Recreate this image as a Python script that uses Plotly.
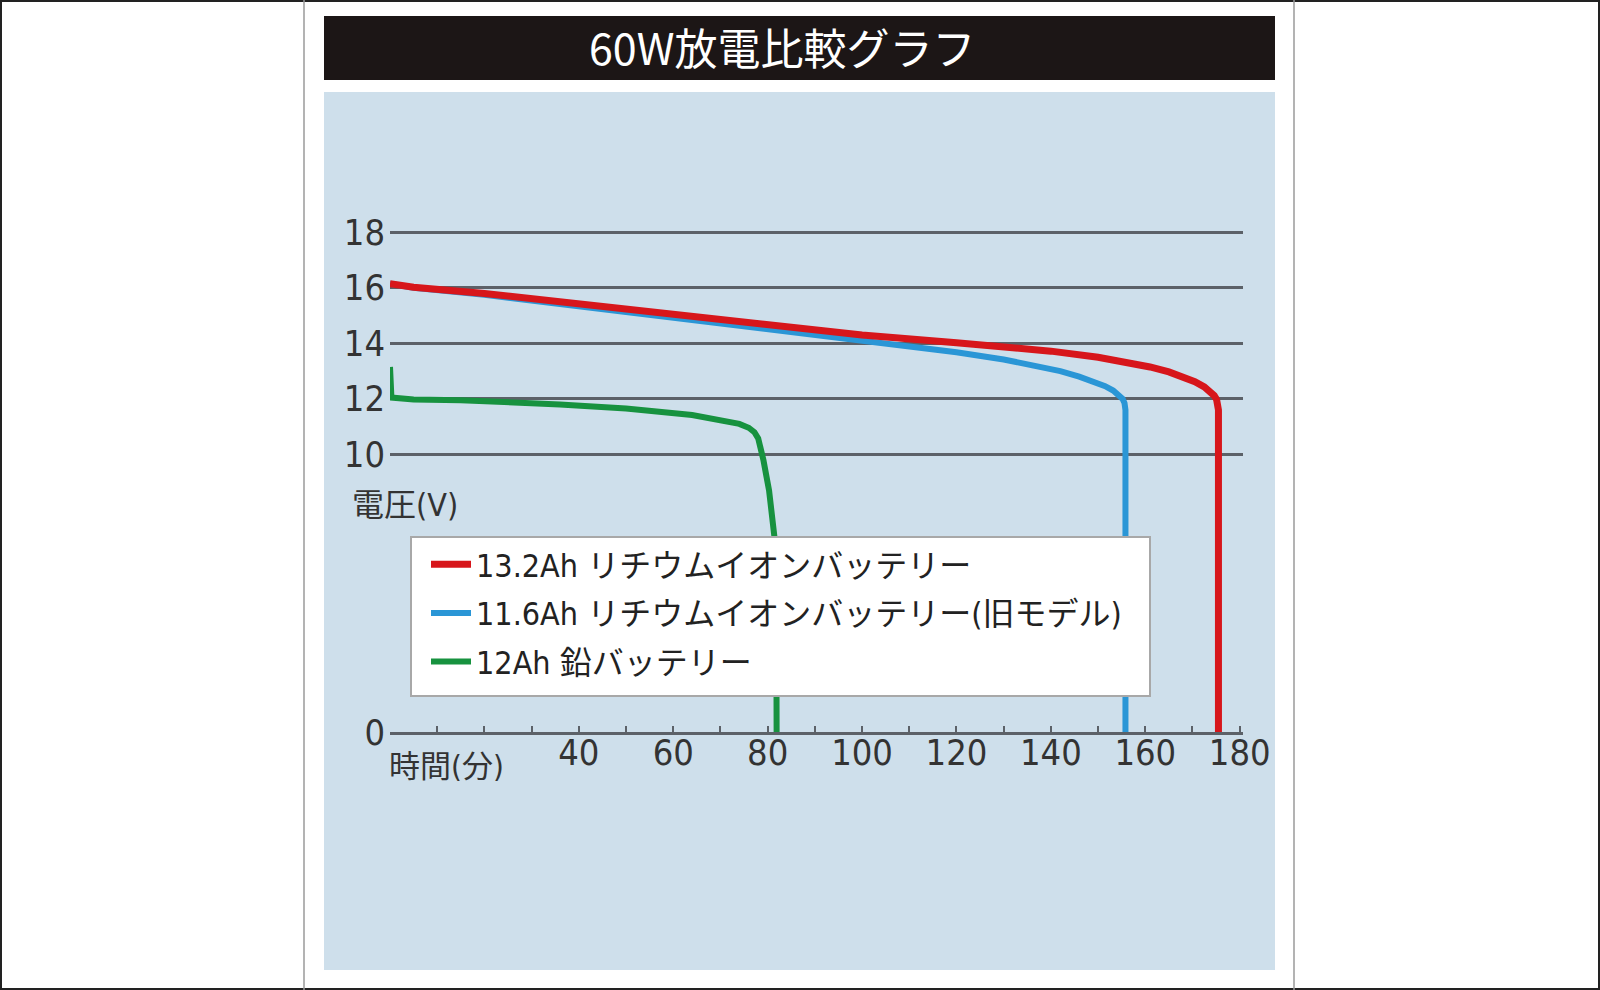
import plotly.graph_objects as go

# discharge curves (time in minutes, voltage in V)
red_name = "13.2Ah リチウムイオンバッテリー"
red_t = [0, 5, 20, 40, 60, 80, 100, 120, 130, 140, 150, 156, 161, 165, 168, 170.5, 172.5, 173.8, 174.6, 175.1, 175.4, 175.5, 175.5]
red_v = [16.15, 16.02, 15.8, 15.42, 15.03, 14.65, 14.3, 14.02, 13.88, 13.72, 13.5, 13.33, 13.15, 12.97, 12.8, 12.62, 12.43, 12.27, 12.12, 11.98, 11.82, 11.6, 0]

blue_name = "11.6Ah リチウムイオンバッテリー(旧モデル)"
blue_t = [0, 5, 20, 40, 60, 80, 100, 110, 120, 130, 137, 142, 146, 149, 151.5, 153.2, 154.4, 155.2, 155.6, 155.8, 155.8]
blue_v = [16.15, 16.0, 15.75, 15.33, 14.92, 14.52, 14.1, 13.9, 13.68, 13.42, 13.2, 13.0, 12.8, 12.62, 12.46, 12.3, 12.15, 12.0, 11.85, 11.6, 0]

green_name = "12Ah 鉛バッテリー"
green_t = [0, 0.3, 5, 15, 36, 50, 64, 71, 74, 76, 77.2, 78.0, 78.5, 79.1, 80.3, 81.2, 81.8, 81.9]
green_v = [13.15, 12.05, 11.98, 11.95, 11.8, 11.65, 11.42, 11.23, 11.1, 10.96, 10.8, 10.58, 10.25, 9.8, 8.7, 7.6, 6.5, 0]

x_tickvals = [10, 20, 30, 40, 50, 60, 70, 80, 90, 100, 110, 120, 130, 140, 150, 160, 170, 180]
x_ticktext = ["", "", "", "40", "", "60", "", "80", "", "100", "", "120", "", "140", "", "160", "", "180"]
y_tickvals = [0, 10, 12, 14, 16, 18]

title = "60W放電比較グラフ"
y_label = "電圧(V)"
x_label = "時間(分)"

W, H = 1600, 990
L, R, T, B = 390, 357, 224, 258
PW, PH = W - L - R, H - T - B

NARROW = "Liberation Sans Narrow, DejaVu Sans Condensed, Noto Sans CJK JP"
CJK = "Noto Sans CJK JP, Noto Sans"
GRID = "#5c6168"


def px(x):
    return (x - L) / PW


def py(y):
    return (H - B - y) / PH


fig = go.Figure()
fig.add_trace(go.Scatter(x=green_t, y=green_v, mode="lines", name=green_name,
                         line=dict(color="#17923f", width=6), legendrank=3, legendgroup="g"))
fig.add_trace(go.Scatter(x=blue_t, y=blue_v, mode="lines", name=blue_name,
                         line=dict(color="#2a96d6", width=6), legendrank=2, legendgroup="b"))
fig.add_trace(go.Scatter(x=red_t, y=red_v, mode="lines", name=red_name,
                         line=dict(color="#d7161b", width=7), legendrank=1, legendgroup="r"))

shapes = [
    # outer frame and side rules
    dict(type="rect", xref="paper", yref="paper", x0=px(1), x1=px(W - 1), y0=py(H - 1), y1=py(1),
         line=dict(color="#222222", width=2), layer="below"),
    dict(type="line", xref="paper", yref="paper", x0=px(304), x1=px(304), y0=py(H), y1=py(0),
         line=dict(color="#9a9a9a", width=1.5), layer="below"),
    dict(type="line", xref="paper", yref="paper", x0=px(1294), x1=px(1294), y0=py(H), y1=py(0),
         line=dict(color="#9a9a9a", width=1.5), layer="below"),
    # title bar
    dict(type="rect", xref="paper", yref="paper", x0=px(324), x1=px(1275), y0=py(80), y1=py(16),
         fillcolor="#1c1616", line=dict(width=0), layer="below"),
    # light blue panel
    dict(type="rect", xref="paper", yref="paper", x0=px(324), x1=px(1275), y0=py(970), y1=py(92),
         fillcolor="#cedfeb", line=dict(width=0), layer="below"),
    # legend box (drawn over the curves, legend text sits on top)
    dict(type="rect", xref="paper", yref="paper", x0=px(411), x1=px(1150), y0=py(696), y1=py(537),
         fillcolor="#ffffff", line=dict(color="#a8a8a8", width=2), layer="above"),
]

annotations = [
    dict(text=title, xref="paper", yref="paper", x=px(782), y=py(46), showarrow=False,
         xanchor="center", yanchor="middle", font=dict(family=CJK, size=43, color="#ffffff")),
    dict(text=y_label, xref="paper", yref="paper", x=px(405), y=py(505), showarrow=False,
         xanchor="center", yanchor="middle", font=dict(family=NARROW, size=32, color="#333333")),
    dict(text=x_label, xref="paper", yref="paper", x=px(446), y=py(766), showarrow=False,
         xanchor="center", yanchor="middle", font=dict(family=NARROW, size=31, color="#333333")),
]

fig.update_layout(
    width=W,
    height=H,
    margin=dict(l=L, r=R, t=T, b=B, autoexpand=False),
    paper_bgcolor="#ffffff",
    plot_bgcolor="rgba(0,0,0,0)",
    shapes=shapes,
    annotations=annotations,
    showlegend=True,
    legend=dict(
        x=px(426), y=py(537), xanchor="left", yanchor="top",
        bgcolor="rgba(0,0,0,0)", borderwidth=0,
        font=dict(family=NARROW, size=32, color="#222222"),
        tracegroupgap=4, itemwidth=40,
    ),
    xaxis=dict(
        range=[0, 180.7], tickvals=x_tickvals, ticktext=x_ticktext,
        ticks="inside", ticklen=6, tickwidth=2, tickcolor=GRID,
        showline=True, linecolor=GRID, linewidth=3,
        showgrid=False, zeroline=False, ticklabelstandoff=-13,
        tickfont=dict(family=NARROW, size=36, color="#333333"),
    ),
    yaxis=dict(
        range=[0, 18.3], tickvals=y_tickvals, ticks="",
        showgrid=True, gridcolor=GRID, gridwidth=3,
        showline=False, zeroline=False, ticklabelstandoff=4,
        tickfont=dict(family=NARROW, size=36, color="#333333"),
    ),
)

# drop the default 8px page margin so the figure fills the window exactly
fig.write_html("out.html", config={"displayModeBar": False},
               post_script="document.body.style.margin='0';")
